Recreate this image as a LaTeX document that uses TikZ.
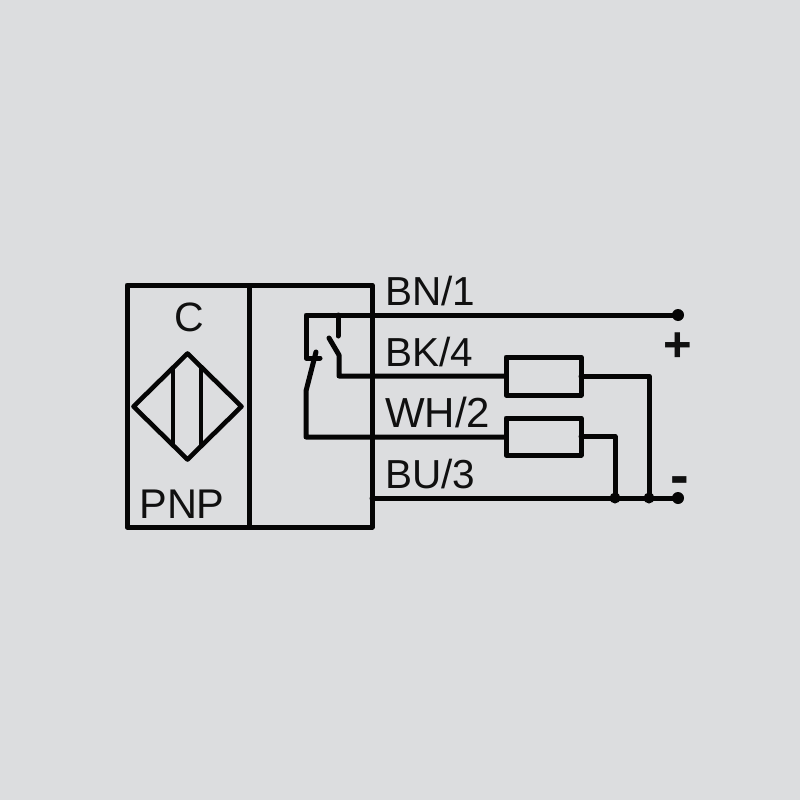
\documentclass[tikz,border=0pt]{standalone}
\usepackage{fontspec}
\setmainfont{Liberation Sans}
\usetikzlibrary{shapes.geometric}
\definecolor{bgc}{HTML}{DCDDDF}
\definecolor{ink}{HTML}{050505}
\tikzset{
  wire/.style={draw=ink,line width=5bp,line join=round,line cap=round},
  thin wire/.style={draw=ink,line width=4.8bp,line cap=butt},
  boxn/.style={draw=ink,line width=5bp,rectangle,inner sep=0pt,outer sep=0pt,line join=round},
  lab/.style={font=\fontsize{40.5bp}{41bp}\selectfont,text=ink!95!bgc,inner sep=0pt,anchor=base west},
  dotn/.style={circle,fill=ink,inner sep=0pt,outer sep=0pt,minimum size=#1},
}
\begin{document}
\begin{tikzpicture}[x=1bp,y=-1bp]
\useasboundingbox (0,0) rectangle (800,800);
\fill[bgc] (0,0) rectangle (800,800);
% sensor housing
\node[boxn,minimum width=245bp,minimum height=242bp] (housing) at (249.5,406) {};
\coordinate (divT) at (249.5,285);
\coordinate (divB) at (249.5,527);
\draw[thin wire] (divT) -- (divB);
% sensing symbol
\node[diamond,draw=ink,line width=4.6bp,line join=round,inner sep=0pt,outer sep=0pt,minimum width=108bp,minimum height=106bp] (sym) at (187.5,406.5) {};
\coordinate (p1t) at (173,368); \coordinate (p1b) at (173,445);
\coordinate (p2t) at (201,368); \coordinate (p2b) at (201,445);
\draw[thin wire] (p1t) -- (p1b);
\draw[thin wire] (p2t) -- (p2b);
\node[font=\fontsize{41bp}{42bp}\selectfont,text=ink!95!bgc,inner sep=0pt] (c) at (189.5,317) {C};
\node[font=\fontsize{41.5bp}{42bp}\selectfont,text=ink!95!bgc,inner sep=0pt] (pnp) at (182,504) {PNP};
% wire labels
\node[lab] (bn) at (385,305) {BN/1};
\node[lab] (bk) at (385,366) {BK/4};
\node[lab,font=\fontsize{42bp}{42bp}\selectfont] (wh) at (385,427) {WH/2};
\node[lab] (bu) at (385,488) {BU/3};
% resistors
\node[boxn,minimum width=75bp,minimum height=38bp] (r1) at (543.5,376) {};
\node[boxn,minimum width=75bp,minimum height=37bp] (r2) at (543.5,436.5) {};
% terminals
\node[dotn=12bp] (tp) at (678,315) {};
\node[dotn=12bp] (tn) at (678,498) {};
\node[dotn=11bp] (j1) at (615,498) {};
\node[dotn=11bp] (j2) at (649,498) {};
\coordinate (tl) at (306,315);
\coordinate (tc) at (338,315);
\coordinate (fix) at (306,358);
\coordinate (fixe) at (320,358);
\coordinate (a1) at (338,336);
\coordinate (b1) at (329,338);
\coordinate (b2) at (339,355);
\coordinate (b3) at (339,376);
\coordinate (c1) at (316,352);
\coordinate (c2) at (306,391);
\coordinate (c3) at (306,437);
\coordinate (bl) at (372,498);
\coordinate (housR) at (372,315);
% wiring
\draw[wire] (tp.center) -- (tl) -- (fix) -- (fixe);
\draw[wire] (tc) -- (a1);
\draw[wire] (b1) -- (b2) -- (b3) -- (r1.west);
\draw[wire] (c1) -- (c2) -- (c3) -- (r2.west |- c3);
\draw[wire] (r1.east) -- (r1.east -| j2) -- (j2.center);
\draw[wire] (r2.east) -- (r2.east -| j1) -- (j1.center);
\draw[wire] (bl) -- (tn.center);
% polarity
\node[font=\bfseries\fontsize{49bp}{50bp}\selectfont,text=ink!95!bgc,inner sep=0pt] (plus) at (678,347) {+};
\node[font=\bfseries\fontsize{56bp}{56bp}\selectfont,text=ink!95!bgc,inner sep=0pt] (minus) at (680,486) {-};
\end{tikzpicture}
\end{document}
